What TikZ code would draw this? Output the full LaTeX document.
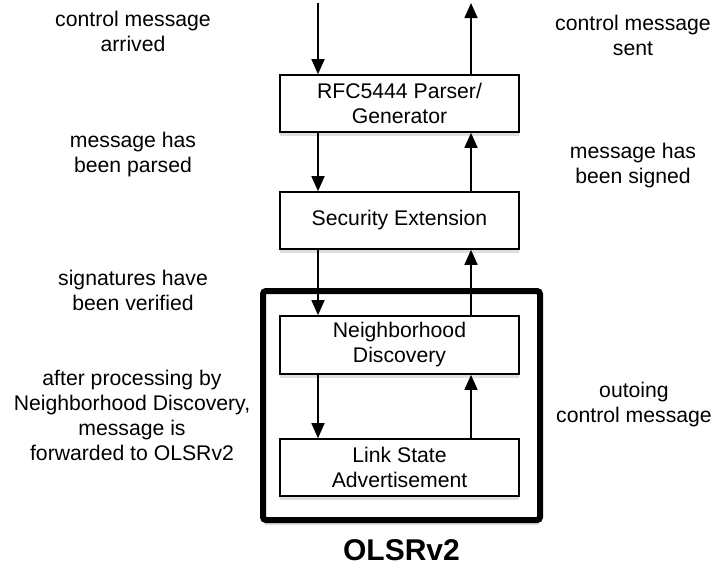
\documentclass[tikz,border=0pt]{standalone}
\usepackage{fontspec}
\setmainfont{Liberation Sans}
\usetikzlibrary{arrows.meta,shadows}

\begin{document}
\begin{tikzpicture}[x=0.5pt,y=-0.5pt,>={Triangle[length=7.5pt,width=6.5pt]},line width=0.8pt,
    layer/.style={draw,fill=white,minimum width=119.5pt,minimum height=28.5pt,align=center,font=\fontsize{10.6}{12.5}\selectfont,drop shadow={opacity=0.25,shadow xshift=0pt,shadow yshift=-2pt}},
    note/.style={align=center,font=\fontsize{10.6}{12.5}\selectfont}]
                \useasboundingbox (0,0) rectangle (715,574);

                \node[draw,fill=white,line width=3pt,rounded corners=1.5pt,minimum width=138.5pt,minimum height=114.5pt,drop shadow={opacity=0.25,shadow xshift=0pt,shadow yshift=-2.5pt}] (olsr) at (401.5,405.5) {};
                \node[font=\fontsize{15}{18}\selectfont\bfseries] (olsrname) at (401.5,550) {OLSRv2};

                \node[layer] (rfc) at (399.5,103.5) {RFC5444 Parser/\\Generator};
                \node[layer] (sec) at (399.5,220.5) {Security Extension};
                \node[layer] (nd) at (399.5,345) {Neighborhood\\Discovery};
                \node[layer] (lsa) at (399.5,467.5) {Link State\\Advertisement};

                \coordinate (in) at (318,3);
                \coordinate (out) at (471,3);

                \path[->]
                    (in) edge (in |- rfc.north)
                    (rfc.north -| out) edge (out)
                    (rfc.south -| in) edge (sec.north -| in)
                    (sec.north -| out) edge (rfc.south -| out)
                    (sec.south -| in) edge (nd.north -| in)
                    (nd.north -| out) edge (sec.south -| out)
                    (nd.south -| in) edge (lsa.north -| in)
                    (lsa.north -| out) edge (nd.south -| out)
                ;

                \node[note] (arrived) at (133,31) {control message\\arrived};
                \node[note] (parsed) at (133,155) {message has\\been parsed};
                \node[note] (verified) at (133,290) {signatures have\\been verified};
                \node[note] (forwarded) at (132,415.5) {after processing by\\Neighborhood Discovery,\\message is\\forwarded to OLSRv2};
                \node[note] (sent) at (633,35) {control message\\sent};
                \node[note] (signed) at (633,166) {message has\\been signed};
                \node[note] (outgoing) at (634,405) {outoing\\control message};
            \end{tikzpicture}
\end{document}
